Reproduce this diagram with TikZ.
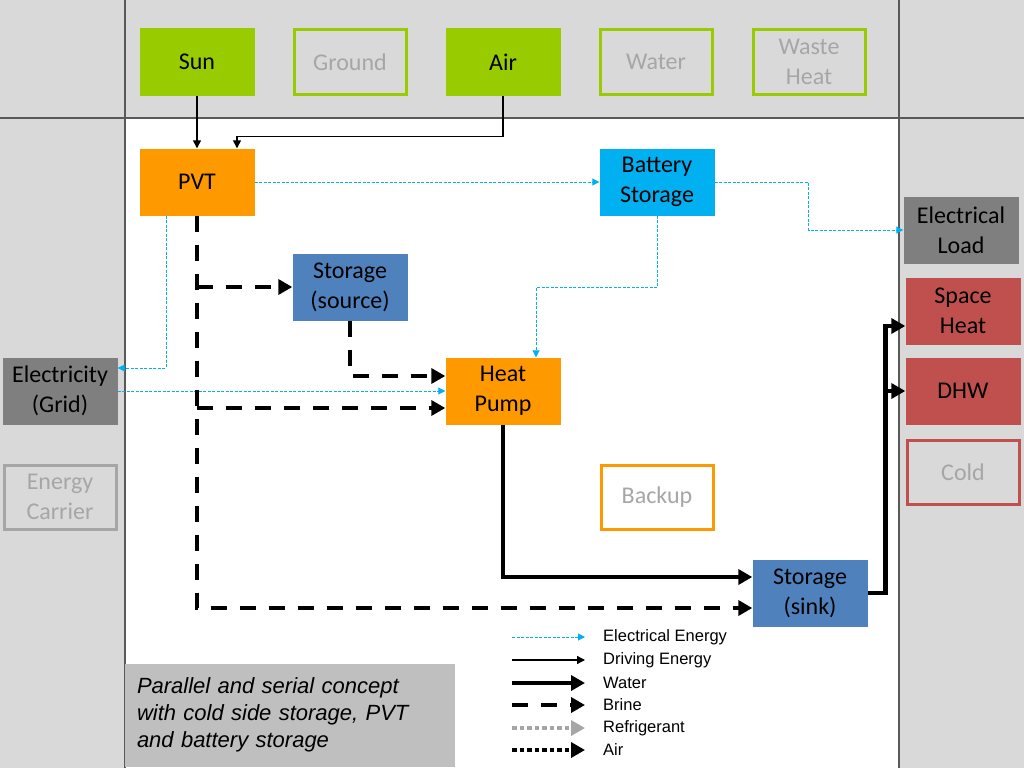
\documentclass[tikz,border=0pt]{standalone}
\usepackage{fontspec}
\setmainfont{Carlito}
\newfontfamily\arialfont{Liberation Sans}
\usetikzlibrary{arrows.meta}
\definecolor{bandGray}{HTML}{D9D9D9}
\definecolor{noteGray}{HTML}{BFBFBF}
\definecolor{lineGray}{HTML}{595959}
\definecolor{fadeGray}{HTML}{A6A6A6}
\definecolor{darkBox}{HTML}{7F7F7F}
\definecolor{srcGreen}{HTML}{99CC00}
\definecolor{pvtOrange}{HTML}{FF9900}
\definecolor{batCyan}{HTML}{00B0F0}
\definecolor{storeBlue}{HTML}{4F81BD}
\definecolor{sinkRed}{HTML}{C0504D}
\tikzstyle{box} = [rectangle, minimum width=115pt, minimum height=67pt, inner sep=0pt, align=center, font=\fontsize{24}{30}\selectfont]
\tikzstyle{srcOn} = [box, fill=srcGreen]
\tikzstyle{srcOff} = [box, draw=srcGreen, line width=3pt, text=fadeGray, minimum width=112pt, minimum height=64pt]
\tikzstyle{pvtBox} = [box, fill=pvtOrange]
\tikzstyle{batBox} = [box, fill=batCyan]
\tikzstyle{storeBox} = [box, fill=storeBlue]
\tikzstyle{gridBox} = [box, fill=darkBox]
\tikzstyle{sinkBox} = [box, fill=sinkRed]
\tikzstyle{offBox} = [box, line width=3pt, text=fadeGray, minimum width=112pt, minimum height=64pt]
\tikzstyle{legText} = [anchor=west, inner sep=0pt, font=\arialfont\fontsize{16.5}{20}\selectfont]
\tikzstyle{elec} = [-{Triangle[length=7pt,width=7pt]}, draw=batCyan, line width=0.9pt, dash pattern=on 3pt off 1.5pt]
\tikzstyle{drive} = [-{Triangle[length=8pt,width=8pt]}, line width=1.3pt]
\tikzstyle{water} = [-{Triangle[length=14pt,width=15pt]}, line width=4.5pt]
\tikzstyle{brine} = [-{Triangle[length=14pt,width=15pt]}, line width=4.5pt, dash pattern=on 16pt off 13pt]
\tikzstyle{refrig} = [-{Triangle[length=14pt,width=15pt]}, line width=4.5pt, draw=fadeGray, dash pattern=on 4.5pt off 3pt]
\tikzstyle{airLine} = [-{Triangle[length=14pt,width=15pt]}, line width=4.5pt, dash pattern=on 4.5pt off 3pt]

\begin{document}
\begin{tikzpicture}[x=1pt, y=-1pt, node distance=153pt]
	\useasboundingbox (0,0) rectangle (1024,768);
	% background bands
	\fill[bandGray] (0,0) rectangle (1024,768);
	\fill[white] (125,118) rectangle (899,768);
	\draw[lineGray, line width=1.5pt] (0,118) -- (1024,118);
	\draw[lineGray, line width=2pt] (125,0) -- (125,768);
	\draw[lineGray, line width=1.5pt] (899,0) -- (899,768);

	% sources
	\node (sun) [srcOn] at (197,62) {Sun};
	\node (ground) [srcOff, right of=sun] {Ground};
	\node (air) [srcOn, right of=ground] {Air};
	\node (water) [srcOff, right of=air] {Water};
	\node (waste) [srcOff, right of=water] {Waste\\Heat};

	% components
	\node (pvt) [pvtBox] at (197,182) {PVT};
	\node (battery) [batBox] at (657,182) {Battery\\Storage};
	\node (source) [storeBox] at (350,287) {Storage\\(source)};
	\node (hp) [pvtBox] at (503,391) {Heat\\Pump};
	\node (backup) [offBox, draw=pvtOrange, fill=white] at (657,497) {Backup};
	\node (sink) [storeBox] at (810,593) {Storage\\(sink)};

	% carriers and loads
	\node (grid) [gridBox] at (60,391) {Electricity\\(Grid)};
	\node (carrier) [offBox, draw=fadeGray] at (60,497) {Energy\\Carrier};
	\node (load) [gridBox] at (961,230) {Electrical\\Load};
	\node (space) [sinkBox] at (963,311) {Space\\Heat};
	\node (dhw) [sinkBox, node distance=80pt, below of=space] {DHW};
	\node (cold) [offBox, draw=sinkRed, node distance=81pt, below of=dhw] {Cold};

	% caption
	\node (note) [rectangle, fill=noteGray, minimum width=330pt, minimum height=103pt, text width=306pt, align=left, inner sep=0pt, font=\arialfont\itshape\fontsize{22}{27}\selectfont] at (290,715) {Parallel and serial concept\\with cold side storage, PVT\\and battery storage};

	% driving energy
	\draw [drive] (sun) -- (pvt);
	\draw [drive] (air.south) -- ++(0,41) -| ([xshift=40pt]pvt.north);

	% electrical energy
	\draw [elec] (pvt) -- (battery);
	\draw [elec] (battery.east) -- ++(94,0) |- (load.west);
	\draw [elec] (battery.south) -- ++(0,72) -| ([xshift=33pt]hp.north);
	\draw [elec] ([xshift=-31pt]pvt.south) |- ([yshift=23pt]grid.east);
	\draw [elec] (grid.east) -- (hp.west);

	% brine
	\draw [brine] (pvt.south) |- ([yshift=-15pt]sink.west);
	\draw [brine] (pvt.south |- source.west) -- (source.west);
	\draw [brine] ([yshift=-17pt]hp.west -| pvt.south) -- ([yshift=-17pt]hp.west);
	\draw [brine] (source.south) |- ([yshift=15pt]hp.west);

	% water
	\coordinate (riser) at ([xshift=18pt]sink.east);
	\draw [water] (hp.south) |- ([yshift=16pt]sink.west);
	\draw [water] (sink.east) -- (riser) |- ([yshift=-15pt]space.west);
	\draw [water] (dhw.west -| riser) -- (dhw.west);

	% legend
	\node (legElec) [legText] at (603,637) {Electrical Energy};
	\node (legDrive) [legText] at (603,660) {Driving Energy};
	\node (legWater) [legText] at (603,683) {Water};
	\node (legBrine) [legText] at (603,705) {Brine};
	\node (legRefrig) [legText] at (603,728) {Refrigerant};
	\node (legAir) [legText] at (603,750) {Air};
	\draw [elec] ([xshift=-91pt]legElec.west) -- ([xshift=-18pt]legElec.west);
	\draw [drive] ([xshift=-91pt]legDrive.west) -- ([xshift=-18pt]legDrive.west);
	\draw [water, line width=3.5pt] ([xshift=-91pt]legWater.west) -- ([xshift=-18pt]legWater.west);
	\draw [brine, line width=3.5pt] ([xshift=-91pt]legBrine.west) -- ([xshift=-18pt]legBrine.west);
	\draw [refrig, line width=3.5pt] ([xshift=-91pt]legRefrig.west) -- ([xshift=-18pt]legRefrig.west);
	\draw [airLine, line width=3.5pt] ([xshift=-91pt]legAir.west) -- ([xshift=-18pt]legAir.west);
\end{tikzpicture}
\end{document}
